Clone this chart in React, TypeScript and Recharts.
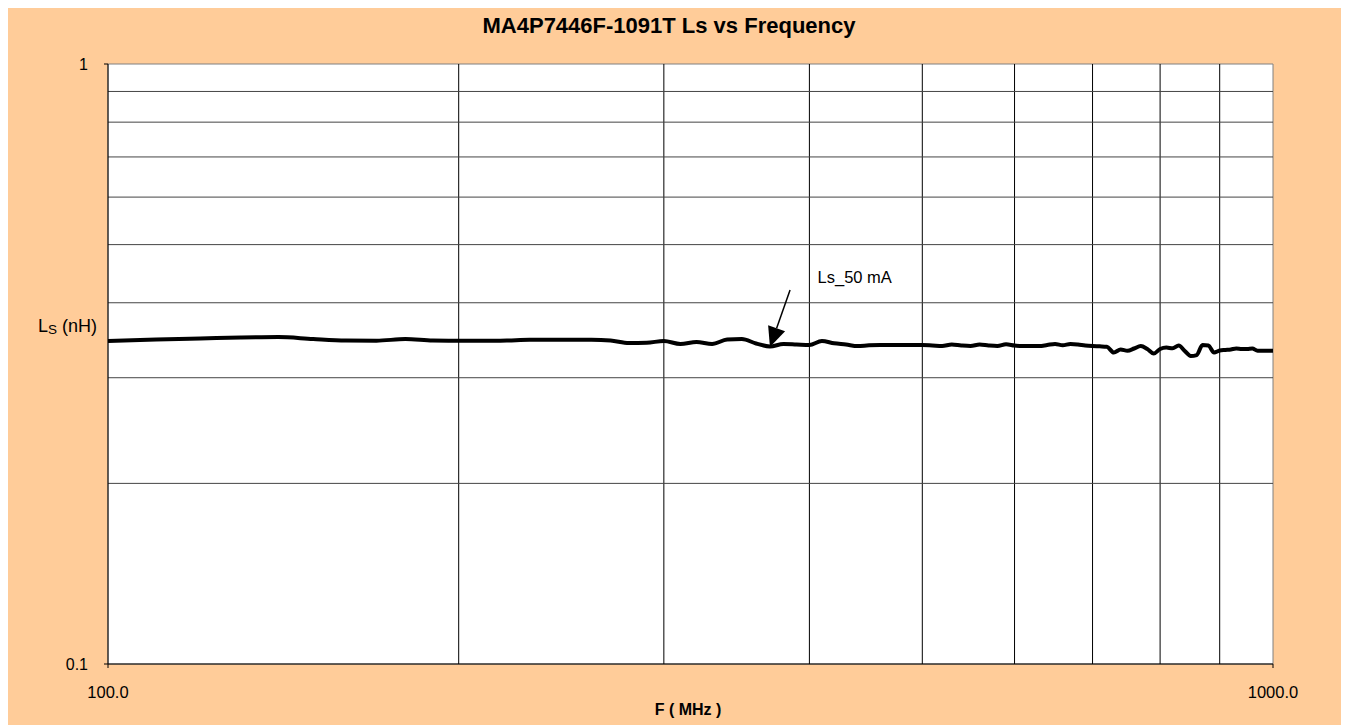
import React from 'react';
import { LineChart, Line, XAxis, YAxis, ReferenceLine, ReferenceArea } from 'recharts';

const freqMHz = [
  100, 110, 120, 130, 140, 150, 160, 170, 180, 190,
  200, 210, 220, 230, 240, 250, 260, 270, 280, 290,
  300, 310, 320, 330, 340, 350, 360, 370, 380, 390,
  400, 410, 420, 430, 440, 450, 460, 470, 480, 490,
  500, 510, 520, 530, 540, 550, 560, 570, 580, 590,
  600, 610, 620, 630, 640, 650, 660, 670, 680, 690,
  700, 710, 720, 730, 740, 750, 760, 770, 780, 790,
  800, 810, 820, 830, 840, 850, 860, 870, 880, 890,
  900, 910, 920, 930, 940, 950, 960, 970, 980, 990, 1000,
];

const ls50mA = [
  0.3454, 0.3474, 0.3487, 0.3500, 0.3506, 0.3480, 0.3461, 0.3458, 0.3480, 0.3461,
  0.3458, 0.3457, 0.3461, 0.3470, 0.3470, 0.3470, 0.3470, 0.3461, 0.3428, 0.3431,
  0.3454, 0.3415, 0.3441, 0.3415, 0.3474, 0.3480, 0.3421, 0.3382, 0.3415, 0.3408,
  0.3401, 0.3454, 0.3424, 0.3408, 0.3388, 0.3397, 0.3401, 0.3401, 0.3401, 0.3401,
  0.3401, 0.3395, 0.3388, 0.3408, 0.3395, 0.3388, 0.3408, 0.3395, 0.3388, 0.3411,
  0.3395, 0.3388, 0.3388, 0.3388, 0.3401, 0.3415, 0.3397, 0.3415, 0.3408, 0.3395,
  0.3388, 0.3384, 0.3379, 0.3305, 0.3343, 0.3328, 0.3356, 0.3388, 0.3350, 0.3292,
  0.3350, 0.3369, 0.3358, 0.3395, 0.3324, 0.3261, 0.3273, 0.3401, 0.3395, 0.3305,
  0.3330, 0.3337, 0.3343, 0.3356, 0.3350, 0.3350, 0.3356, 0.3328, 0.3328, 0.3328, 0.3328,
];

const xTicks = [100, 1000];
const yTicks = [0.1, 1];
const xGrid = [200, 300, 400, 500, 600, 700, 800, 900];
const yGrid = [0.2, 0.3, 0.4, 0.5, 0.6, 0.7, 0.8, 0.9];

// annotation (data coordinates)
const arrowFrom = { x: 385, y: 0.42 };
const arrowTo = { x: 370, y: 0.3375 };
const labelBox = { x1: 389, x2: 492, y1: 0.4153, y2: 0.4677 };

const data = freqMHz.map((f, i) => ({ f, ls: ls50mA[i] }));

const FONT = '"Liberation Sans", Arial, sans-serif';

const ArrowShape = (props: any) => {
  const { x1, y1, x2, y2 } = props;
  if ([x1, y1, x2, y2].some((v) => typeof v !== 'number' || isNaN(v))) return null;
  const dx = x2 - x1;
  const dy = y2 - y1;
  const len = Math.sqrt(dx * dx + dy * dy);
  const ux = dx / len;
  const uy = dy / len;
  const headLen = 20;
  const headHalf = 9;
  const bx = x2 - ux * headLen;
  const by = y2 - uy * headLen;
  const px = -uy;
  const py = ux;
  return (
    <g>
      <line x1={x1} y1={y1} x2={bx} y2={by} stroke="#000" strokeWidth={1.5} />
      <polygon
        points={`${x2},${y2} ${bx + px * headHalf},${by + py * headHalf} ${bx - px * headHalf},${by - py * headHalf}`}
        fill="#000"
      />
    </g>
  );
};

export default function App() {
  return (
    <div style={{ position: 'relative', width: 1349, height: 725, background: '#FFCC99', overflow: 'hidden', fontFamily: FONT }}>
      <style>{'html,body{overflow:hidden;}'}</style>
      <div
        style={{
          position: 'absolute',
          left: 0,
          width: 1322,
          top: 5,
          textAlign: 'center',
          fontWeight: 'bold',
          fontSize: 22,
          lineHeight: '26px',
          color: '#000',
        }}
      >
        MA4P7446F-1091T Ls vs Frequency
      </div>
      <div
        style={{
          position: 'absolute',
          right: 1349 - 89,
          top: 307,
          fontSize: 18,
          lineHeight: '22px',
          color: '#000',
          whiteSpace: 'nowrap',
        }}
      >
        L<span style={{ fontSize: 13.5, position: 'relative', top: 2 }}>S</span> (nH)
      </div>
      <div
        style={{
          position: 'absolute',
          left: 0,
          width: 1360,
          top: 692,
          textAlign: 'center',
          fontWeight: 'bold',
          fontSize: 16,
          lineHeight: '20px',
          color: '#000',
        }}
      >
        F ( MHz )
      </div>
      <div style={{ position: 'absolute', left: 0, top: 0 }}>
        <LineChart width={1341} height={717} data={data} margin={{ top: 56, right: 76, bottom: 31, left: 0 }}>
          <ReferenceArea x1={100} x2={1000} y1={0.1} y2={1} fill="#FFFFFF" fillOpacity={1} stroke="#808080" strokeWidth={1} />
          {xGrid.map((v) => (
            <ReferenceLine key={'x' + v} x={v} stroke="#000" strokeWidth={1} />
          ))}
          {yGrid.map((v) => (
            <ReferenceLine key={'y' + v} y={v} stroke="#444" strokeWidth={1} />
          ))}
          <XAxis
            dataKey="f"
            type="number"
            scale="log"
            domain={[100, 1000]}
            ticks={xTicks}
            allowDataOverflow
            tickFormatter={(v: number) => v.toFixed(1)}
            tick={{ fill: '#000', fontSize: 16.5, fontFamily: FONT }}
            tickSize={4}
            tickMargin={18}
            stroke="#000"
            height={30}
          />
          <YAxis
            type="number"
            scale="log"
            domain={[0.1, 1]}
            ticks={yTicks}
            allowDataOverflow
            tickFormatter={(v: number) => (v >= 1 ? '1' : '0.1')}
            tick={{ fill: '#000', fontSize: 16, fontFamily: FONT }}
            tickSize={4}
            tickMargin={16}
            stroke="#000"
            width={100}
          />
          <ReferenceArea
            x1={labelBox.x1}
            x2={labelBox.x2}
            y1={labelBox.y1}
            y2={labelBox.y2}
            fill="#FFFFFF"
            fillOpacity={1}
            stroke="none"
            label={{ value: 'Ls_50 mA', position: 'center', fill: '#000', fontSize: 16.5, fontFamily: FONT }}
          />
          <ReferenceLine
            segment={[arrowFrom, arrowTo]}
            stroke="#000"
            shape={ArrowShape}
          />
          <Line
            dataKey="ls"
            type="monotone"
            stroke="#000"
            strokeWidth={4}
            dot={false}
            isAnimationActive={false}
          />
        </LineChart>
      </div>
    </div>
  );
}
